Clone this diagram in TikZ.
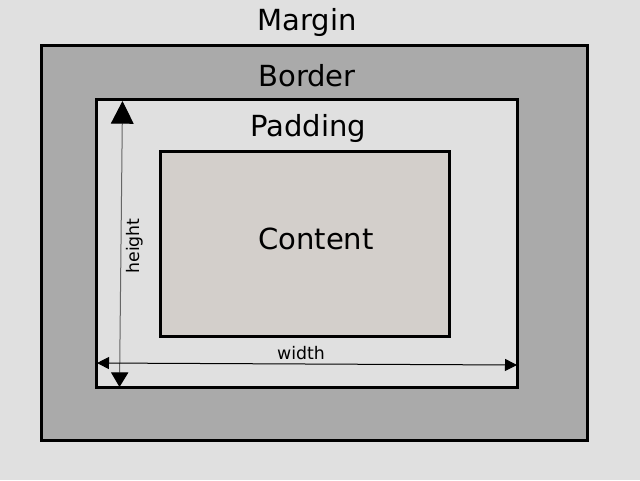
\documentclass[tikz,border=0pt]{standalone}
\usepackage{fontspec}
\setmainfont{DejaVu Sans}
\usetikzlibrary{positioning,arrows.meta}
\definecolor{pagegrey}{HTML}{E0E0E0}
\definecolor{bordergrey}{HTML}{AAAAAA}
\definecolor{contentgrey}{HTML}{D3CFCB}
\tikzset{
	box/.style={draw=black,line width=2.25pt},
	biglabel/.style={font=\fontsize{21.8}{26}\selectfont,inner sep=0pt},
	smalllabel/.style={font=\fontsize{13}{16}\selectfont,inner sep=0pt},
}
\begin{document}
\begin{tikzpicture}[x=0.75pt,y=-0.75pt]
				\fill[pagegrey] (0,0) rectangle (640,480);
				\useasboundingbox (0,0) rectangle (640,480);
				\draw[box,fill=bordergrey] (41,45) rectangle (587,440);
				\draw[box,fill=pagegrey] (96,99) rectangle (517,387);
				\draw[box,fill=contentgrey] (160,151) rectangle (449,336);
				
				\node[biglabel](margin) at (307,22) {Margin};
				\node[biglabel](border) at (307,76) {Border};
				\node[biglabel](padding) at (308,128) {Padding};
				\node[biglabel](content) at (316,239) {Content};
				\node[smalllabel,rotate=90](height) at (135,246) {height};
				\node[smalllabel](width) at (301,353) {width};
				
				\coordinate(htop) at (122.5,101);
				\coordinate(hbot) at (119.5,387);
				\coordinate(wleft) at (97,363);
				\coordinate(wright) at (517,365);
				\draw[{Triangle[length=17pt,width=17pt,color=black]}-{Triangle[length=11pt,width=13pt,color=black]},draw=black!60,line width=0.75pt] (htop) -- (hbot);
				\draw[{Triangle[length=9pt,width=9pt]}-{Triangle[length=9pt,width=9pt]},line width=0.75pt] (wleft) -- (wright);
			\end{tikzpicture}
\end{document}
